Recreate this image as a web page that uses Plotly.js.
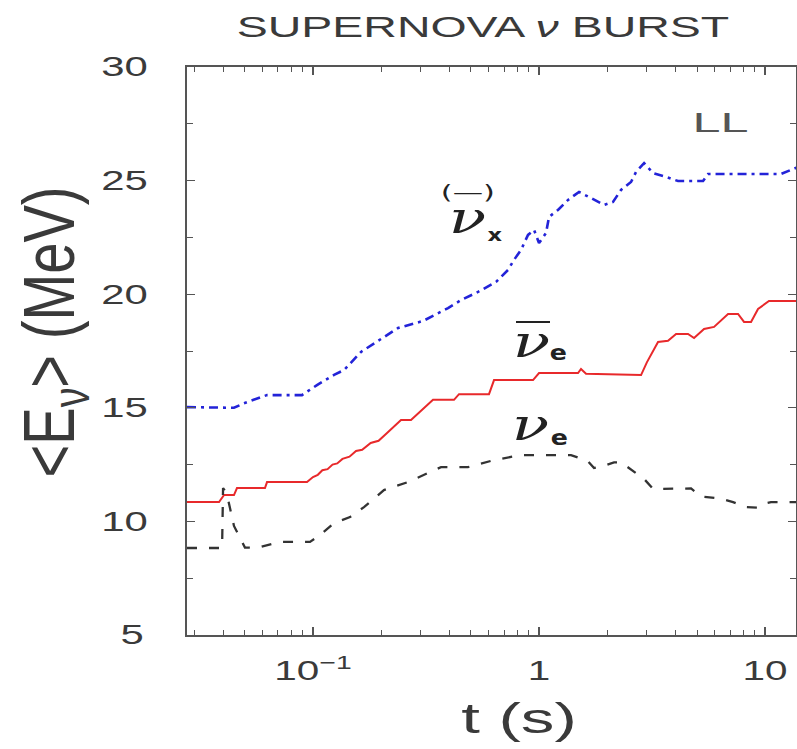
<!DOCTYPE html>
<html>
<head>
<meta charset="utf-8">
<script src="https://cdn.plot.ly/plotly-3.0.1.min.js"></script>
<style>html,body{margin:0;padding:0;background:#fff;}#chart{width:797px;height:749px;}</style>
</head>
<body>
<div id="chart"></div>
<script>
// ν̄x (anti)neutrino mu/tau mean energy
const tNuX = [0.0277, 0.0447, 0.0495, 0.0626, 0.0894, 0.1041, 0.1239, 0.1372, 0.1631, 0.206, 0.2377, 0.3067, 0.3957, 0.4517, 0.5372, 0.6453, 0.7293, 0.7751, 0.8325, 0.8941, 0.9504, 1.0, 1.074, 1.107, 1.213, 1.344, 1.503, 1.699, 1.94, 2.125, 2.306, 2.553, 2.687, 2.916, 3.194, 3.647, 4.121, 5.318, 5.596, 11.77, 13.44, 14.0];
const eNuX = [15.03, 15.0, 15.2, 15.56, 15.56, 16.0, 16.45, 16.66, 17.46, 18.12, 18.51, 18.82, 19.39, 19.74, 20.1, 20.54, 21.07, 21.51, 21.95, 22.61, 22.83, 22.25, 22.69, 23.4, 23.71, 24.15, 24.5, 24.23, 23.93, 24.06, 24.59, 24.94, 25.38, 25.77, 25.33, 25.16, 24.98, 24.98, 25.29, 25.29, 25.55, 25.6];

// ν̄e
const tNuEbar = [0.0277, 0.0384, 0.0404, 0.0447, 0.0461, 0.0613, 0.0626, 0.0941, 0.1, 0.105, 0.11, 0.116, 0.122, 0.128, 0.135, 0.145, 0.155, 0.165, 0.18, 0.195, 0.2126, 0.2451, 0.2714, 0.3396, 0.4206, 0.4426, 0.6008, 0.6323, 0.9408, 1.0, 1.488, 1.534, 1.614, 2.828, 3.0, 3.362, 3.722, 4.04, 4.563, 4.852, 5.373, 5.948, 6.861, 7.596, 8.074, 8.672, 9.312, 10.41, 14.0];
const eNuEbar = [10.85, 10.85, 11.16, 11.16, 11.47, 11.47, 11.73, 11.73, 11.95, 12.05, 12.25, 12.3, 12.5, 12.55, 12.75, 12.85, 13.1, 13.15, 13.45, 13.55, 13.89, 14.46, 14.46, 15.35, 15.35, 15.6, 15.6, 16.22, 16.22, 16.53, 16.53, 16.71, 16.5, 16.44, 17.0, 17.9, 17.95, 18.25, 18.25, 18.07, 18.47, 18.56, 19.13, 19.13, 18.78, 18.78, 19.35, 19.7, 19.7];

// νe
const tNuE = [0.0277, 0.0396, 0.0400, 0.0416, 0.0447, 0.0500, 0.0565, 0.0714, 0.0970, 0.1074, 0.1239, 0.1458, 0.1681, 0.206, 0.2633, 0.3327, 0.3684, 0.4852, 0.6323, 0.8325, 1.385, 1.647, 1.751, 1.94, 2.147, 2.306, 2.633, 2.916, 3.194, 3.76, 4.705, 5.21, 6.387, 7.221, 8.24, 9.312, 10.1, 10.63, 14.0];
const eNuE = [8.83, 8.83, 11.47, 11.2, 9.8, 8.85, 8.83, 9.1, 9.1, 9.4, 9.93, 10.19, 10.63, 11.38, 11.73, 12.17, 12.39, 12.39, 12.7, 12.92, 12.92, 12.65, 12.35, 12.45, 12.6, 12.6, 12.2, 11.87, 11.43, 11.43, 11.45, 11.1, 11.0, 10.85, 10.63, 10.6, 10.8, 10.85, 10.85];

const xMajor = [0.1, 1, 10];
const xMajorText = ['10<sup>\u22121</sup>', '1', '10'];
const xMinor = [0.03,0.04,0.05,0.06,0.07,0.08,0.09,0.2,0.3,0.4,0.5,0.6,0.7,0.8,0.9,2,3,4,5,6,7,8,9];

const axisColor = '#555';
const textColor = '#3a3a3a';
const fontFam = 'Liberation Sans, Arial, sans-serif';

const traces = [
  {x: tNuX, y: eNuX, mode: 'lines', line: {color: '#2323d8', width: 2.6, dash: '9px,5px,3px,5px'}, hoverinfo: 'skip'},
  {x: tNuEbar, y: eNuEbar, mode: 'lines', line: {color: '#e8292b', width: 2}, hoverinfo: 'skip'},
  {x: tNuE, y: eNuE, mode: 'lines', line: {color: '#333', width: 2.3, dash: '10px,12px'}, hoverinfo: 'skip'}
];

function px(x){return (x-187)/609;}
function py(y){return (635-y)/568;}
function ann(x, y, text, family, size, color) {
  return {xref: 'paper', yref: 'paper', x: px(x), y: py(y), xanchor: 'center', yanchor: 'middle',
          text: text, showarrow: false, font: {family: family, size: size, color: color}};
}
const serif = 'DejaVu Serif, serif';
const sans = 'DejaVu Sans, sans-serif';

const layout = {
  width: 797, height: 749,
  margin: {l: 187, r: 1, t: 67, b: 114},
  paper_bgcolor: '#fff', plot_bgcolor: '#fff',
  showlegend: false,
  title: {text: 'SUPERNOVA <i>\u03bd</i> BURST', x: 0.5, xref: 'paper', y: 0.962, yanchor: 'middle',
          font: {family: fontFam, size: 30, color: textColor}},
  xaxis: {
    type: 'log', range: [-1.5575, 1.137], autorange: false,
    tickmode: 'array', tickvals: xMajor, ticktext: xMajorText,
    ticks: 'inside', ticklen: 8, tickwidth: 1.2, tickcolor: axisColor,
    minor: {tickmode: 'array', tickvals: xMinor, ticks: 'inside', ticklen: 5, tickwidth: 1, tickcolor: axisColor},
    showline: true, linecolor: axisColor, linewidth: 2, mirror: 'ticks',
    showgrid: false, zeroline: false,
    tickfont: {family: fontFam, size: 27, color: textColor},
    ticklabelstandoff: 11,
    title: {text: 't (s)', font: {family: fontFam, size: 42, color: textColor}, standoff: 6}
  },
  yaxis: {
    range: [5, 30], autorange: false,
    tickmode: 'linear', tick0: 5, dtick: 5,
    ticks: 'inside', ticklen: 8, tickwidth: 1.2, tickcolor: axisColor,
    minor: {dtick: 2.5, ticks: 'inside', ticklen: 6, tickwidth: 1, tickcolor: axisColor},
    showline: true, linecolor: axisColor, linewidth: 2, mirror: 'ticks',
    showgrid: false, zeroline: false,
    tickfont: {family: fontFam, size: 27, color: textColor},
    ticklabelstandoff: 40,
    title: {text: '&lt;E<sub>\u03bd</sub>&gt; (MeV)', font: {family: fontFam, size: 52, color: textColor}, standoff: 30}
  },
  annotations: [
    ann(720, 122, 'LL', fontFam, 28, '#555'),
    ann(468, 192, '(\u2014)', sans, 19, '#222'),
    ann(467, 217, '<i>\u03bd</i>', serif, 44, '#222'),
    ann(495, 234, '<b>x</b>', sans, 18, '#222'),
    ann(531, 341, '<i>\u03bd</i>', serif, 44, '#222'),
    ann(558, 352, '<b>e</b>', sans, 22, '#222'),
    ann(530, 424, '<i>\u03bd</i>', serif, 44, '#222'),
    ann(559, 437, '<b>e</b>', sans, 22, '#222')
  ],
  shapes: [
    {type: 'line', xref: 'paper', yref: 'paper', x0: px(516), x1: px(550), y0: py(322), y1: py(322),
     line: {color: '#222', width: 2}}
  ]
};

// widen text glyphs about their centre (the reference uses a wide typeface),
// and optionally move the centre to a target point on the page
function shapeText(el, sx, sy, tx, ty) {
  const r = el.getBoundingClientRect();
  if (!r.width) return;
  const svg = el.ownerSVGElement;
  const inv = el.parentNode.getScreenCTM().inverse();
  const p = svg.createSVGPoint();
  p.x = r.left + r.width / 2; p.y = r.top + r.height / 2;
  const pc = p.matrixTransform(inv);
  let dx = 0, dy = 0;
  if (tx != null) {
    const q = svg.createSVGPoint();
    q.x = tx; q.y = ty;
    const qc = q.matrixTransform(inv);
    dx = qc.x - pc.x; dy = qc.y - pc.y;
  }
  const old = el.getAttribute('transform') || '';
  el.setAttribute('transform', 'translate(' + dx + ',' + dy + ') translate(' + pc.x + ',' + pc.y + ') scale(' + sx + ',' + sy + ') translate(' + (-pc.x) + ',' + (-pc.y) + ') ' + old);
}

Plotly.newPlot('chart', traces, layout, {staticPlot: true, displayModeBar: false}).then(function (gd) {
  gd.querySelectorAll('.xtick text').forEach(function (el) { shapeText(el, 1.5, 1); });
  gd.querySelectorAll('.ytick text').forEach(function (el) { shapeText(el, 1.55, 1); });
  gd.querySelectorAll('.gtitle').forEach(function (el) { shapeText(el, 1.55, 1, 483, 27); });
  gd.querySelectorAll('.g-xtitle text').forEach(function (el) { shapeText(el, 1.6, 1, 519, 719); });
  gd.querySelectorAll('.g-ytitle text').forEach(function (el) { shapeText(el, 1.4, 1.08, 54, 332); });
  gd.querySelectorAll('.annotation-text').forEach(function (el) {
    const t = el.textContent;
    if (t === 'LL') shapeText(el, 1.8, 1);
    else if (t.indexOf('\u2014') >= 0) shapeText(el, 1.6, 1);
    else if (t === '\u03bd') shapeText(el, 1.4, 1);
    else if (t === 'x') shapeText(el, 1.25, 1);
    else shapeText(el, 1.15, 1);
  });
});
</script>
</body>
</html>
